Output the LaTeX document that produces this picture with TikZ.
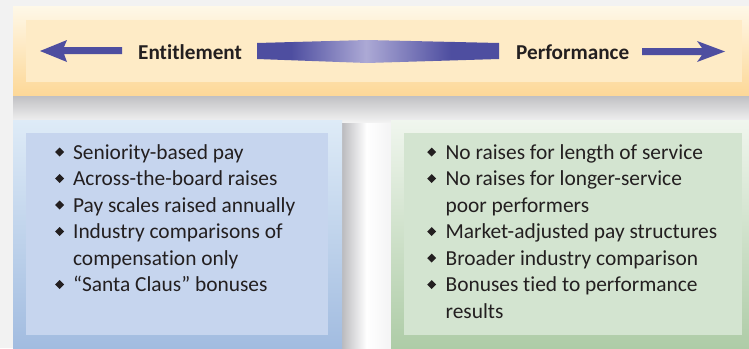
\documentclass[tikz,border=0pt]{standalone}
\usepackage{fontspec}
\setmainfont[Ligatures=NoCommon]{Carlito}
\usetikzlibrary{calc}
\definecolor{txt}{HTML}{231F20}
\definecolor{arr}{HTML}{4E4EA0}
\definecolor{arrlt}{HTML}{ACA9D5}
\definecolor{bgc}{HTML}{F2F2F2}
\definecolor{shd}{HTML}{B3B3B7}
\definecolor{topA}{HTML}{FEF8E8}
\definecolor{topB}{HTML}{FDD898}
\definecolor{topIn}{HTML}{FEEBC6}
\definecolor{bluA}{HTML}{DEEBF7}
\definecolor{bluB}{HTML}{A2BCE0}
\definecolor{bluIn}{HTML}{C6D5EE}
\definecolor{grnA}{HTML}{F0F6EE}
\definecolor{grnB}{HTML}{AECCA7}
\definecolor{grnIn}{HTML}{D3E4D0}
\pgfdeclarehorizontalshading{barshade}{100bp}{color(0bp)=(arr); color(32bp)=(arr); color(47.5bp)=(arrlt); color(65bp)=(arr); color(100bp)=(arr)}
\newcommand\dmd{\raisebox{2.5pt}{\rotatebox{45}{\rule{6.3pt}{6.3pt}}}}
\tikzset{
  lbl/.style={font=\fontsize{21.2}{26}\selectfont\bfseries, text=txt, inner sep=0pt, anchor=base west},
  lst/.style={font=\fontsize{21.4}{26.5}\selectfont, text=txt, inner sep=0pt, anchor=base west},
  arrowfill/.style={fill=arr, draw=none}
}
\begin{document}
\begin{tikzpicture}[x=1pt,y=-1pt]
\useasboundingbox (0,0) rectangle (749,348);
% background
\fill[bgc] (0,0) rectangle (749,348);
\shade[left color=shd!90, right color=white!85!shd, middle color=white] (342,95) rectangle (391,348);
\shade[top color=shd!85, bottom color=bgc] (13,95) rectangle (749,122);
% top box
\shade[top color=topA, bottom color=topB] (13,6) rectangle (749,95);
\fill[topIn] (26,20) rectangle (742,82);
% lower boxes
\shade[top color=bluA, bottom color=bluB] (13,120) rectangle (342,348);
\fill[bluIn] (26,133) rectangle (328,335);
\shade[top color=grnA, bottom color=grnB] (391,120) rectangle (749,348);
\fill[grnIn] (404,133) rectangle (742,335);
% labels
\node[lbl] (ent) at (138,59) {Entitlement};
\node[lbl] (perf) at (516,59) {Performance};
% left arrow
\coordinate (la) at (40,51);
\fill[arrowfill] (la) -- ($(la)+(27,-11)$) -- ($(la)+(24,-4)$) -- ($(la)+(82,-4)$) -- ($(la)+(82,3)$) -- ($(la)+(24,3)$) -- ($(la)+(27,11)$) -- cycle;
% right arrow
\coordinate (ra) at (725,51.5);
\fill[arrowfill] (ra) -- ($(ra)+(-28,-10.5)$) -- ($(ra)+(-23,-3.5)$) -- ($(ra)+(-83,-3.5)$) -- ($(ra)+(-83,3.5)$) -- ($(ra)+(-23,3.5)$) -- ($(ra)+(-28,10.5)$) -- cycle;
% middle bar
\shade[shading=barshade] (257,43) -- (367,40) -- (499,43) -- (499,59) -- (367,63) -- (257,59) -- cycle;
% lists
\node[lst] (left) at (55,159) {\begin{tabular}[t]{@{}l@{\hspace{9pt}}l@{}}
\dmd & Seniority-based pay\\
\dmd & Across-the-board raises\\
\dmd & Pay scales raised annually\\
\dmd & Industry comparisons of\\
 & compensation only\\
\dmd & ``Santa Claus'' bonuses
\end{tabular}};
\node[lst] (right) at (427,159) {\begin{tabular}[t]{@{}l@{\hspace{9.5pt}}l@{}}
\dmd & No raises for length of service\\
\dmd & No raises for longer-service\\
 & poor performers\\
\dmd & Market-adjusted pay structures\\
\dmd & Broader industry comparison\\
\dmd & Bonuses tied to performance\\
 & results
\end{tabular}};
\end{tikzpicture}
\end{document}
